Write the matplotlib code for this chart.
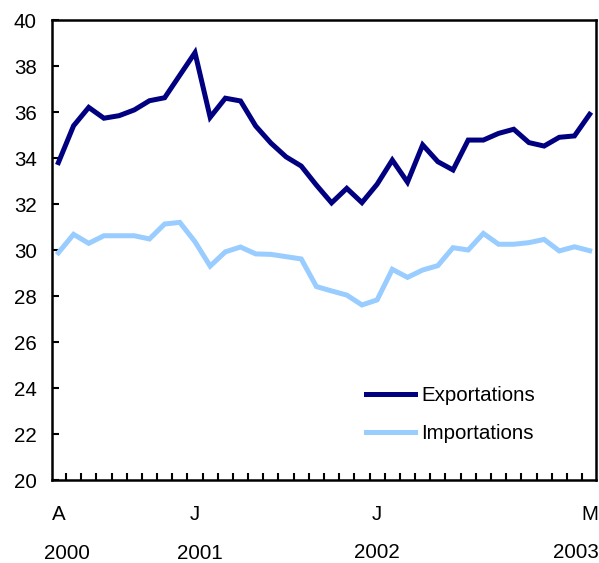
import matplotlib
matplotlib.use("Agg")
import matplotlib.pyplot as plt
import matplotlib.transforms as mtransforms

plt.rcParams['font.family'] = ['Liberation Sans', 'DejaVu Sans']

exportations = [33.8, 35.4, 36.2, 35.73, 35.84, 36.09, 36.49, 36.62, 37.6, 38.58,
                35.77, 36.6, 36.48, 35.39, 34.65, 34.05, 33.65, 32.82, 32.05, 32.68,
                32.06, 32.86, 33.91, 32.95, 34.57, 33.84, 33.48, 34.78, 34.78, 35.07,
                35.25, 34.67, 34.52, 34.9, 34.96, 35.9]
importations = [29.88, 30.68, 30.29, 30.62, 30.62, 30.62, 30.48, 31.13, 31.2, 30.36,
                29.3, 29.92, 30.13, 29.83, 29.81, 29.71, 29.61, 28.41, 28.22, 28.04,
                27.61, 27.83, 29.16, 28.81, 29.13, 29.32, 30.1, 30.0, 30.72, 30.25,
                30.25, 30.32, 30.46, 29.96, 30.14, 29.97]
month_labels = ["A", "J", "J", "M"]
month_index = [0, 9, 21, 35]
year_labels = ["2000", "2001", "2002", "2003"]
series_names = ["Exportations", "Importations"]

FS = 14.8

fig = plt.figure(figsize=(5.99, 5.63), dpi=100)
ax = fig.add_axes([52/599, 1-480/563, (596-52)/599, (480-20)/563])

x = list(range(len(exportations)))
ax.plot(x, exportations, color='#000080', lw=3.6, label=series_names[0], solid_joinstyle='miter')
ax.plot(x, importations, color='#99ccff', lw=3.6, label=series_names[1], solid_joinstyle='miter')

ax.set_xlim(-0.42, 35.42)
ax.set_ylim(20, 40)
ax.set_yticks(range(20, 41, 2))
ax.tick_params(axis='y', direction='in', length=5, width=1.5, labelsize=FS, pad=11)

ax.set_xticks([i + 0.5 for i in range(35)])
ax.set_xticklabels([])
ax.tick_params(axis='x', which='major', direction='in', length=5, width=1.5)
ax.set_xticks(month_index, minor=True)
ax.set_xticklabels(month_labels, minor=True)
ax.tick_params(axis='x', which='minor', length=0, labelsize=FS, pad=18)

for s in ax.spines.values():
    s.set_linewidth(1.8)

trans = mtransforms.blended_transform_factory(ax.transData, ax.transAxes)
year_x = [0.55, 9.35, 21.0, 34.1]
year_y = [-0.159, -0.160, -0.158, -0.158]
for xx, yy, lab in zip(year_x, year_y, year_labels):
    ax.text(xx, yy, lab, transform=trans, ha='center', va='center', fontsize=FS)

ax.legend(loc='upper left', bbox_to_anchor=(0.578, 0.204), frameon=False,
          fontsize=FS, handlelength=2.35, handletextpad=0.3, labelspacing=0.92,
          borderpad=0, borderaxespad=0)

fig.savefig("out.png", dpi=100)
